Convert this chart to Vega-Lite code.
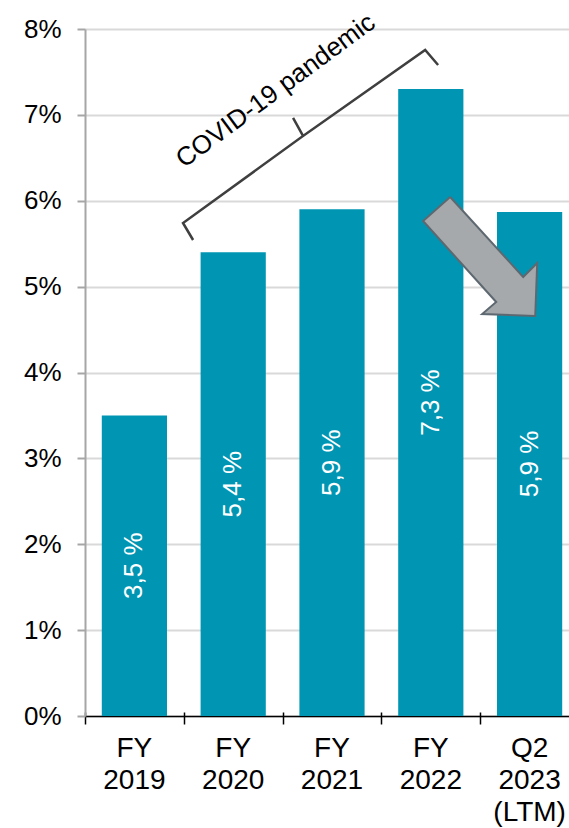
{
  "$schema": "https://vega.github.io/schema/vega-lite/v6.json",
  "autosize": "none",
  "padding": {"left": 85, "top": 29, "right": 0, "bottom": 112},
  "width": 484,
  "height": 687,
  "background": "white",
  "config": {
    "view": {"stroke": null},
    "font": "Liberation Sans",
    "axis": {"labelFont": "Liberation Sans", "labelColor": "#000000"}
  },
  "datasets": {
    "bars": [
      {"cat": "FY|2019", "v": 3.5, "lab": "3,5 %"},
      {"cat": "FY|2020", "v": 5.4, "lab": "5,4 %"},
      {"cat": "FY|2021", "v": 5.9, "lab": "5,9 %"},
      {"cat": "FY|2022", "v": 7.3, "lab": "7,3 %"},
      {"cat": "Q2|2023|(LTM)", "v": 5.87, "lab": "5,9 %"}
    ],
    "brace": [
      {"o": 1, "bx": 1.094, "by": 5.543},
      {"o": 2, "bx": 0.992, "by": 5.741},
      {"o": 3, "bx": 2.207, "by": 6.754},
      {"o": 4, "bx": 2.106, "by": 6.964},
      {"o": 5, "bx": 2.207, "by": 6.754},
      {"o": 6, "bx": 3.443, "by": 7.755},
      {"o": 7, "bx": 3.574, "by": 7.581}
    ],
    "note": [
      {"tx": 1.93, "ty": 7.28, "t": "COVID-19 pandemic"}
    ],
    "arrow": [
      {"o": 1, "ax": 3.696, "ay": 6.044},
      {"o": 2, "ax": 4.435, "ay": 5.112},
      {"o": 3, "ax": 4.577, "ay": 5.275},
      {"o": 4, "ax": 4.557, "ay": 4.658},
      {"o": 5, "ax": 4.020, "ay": 4.681},
      {"o": 6, "ax": 4.162, "ay": 4.821},
      {"o": 7, "ax": 3.422, "ay": 5.764},
      {"o": 8, "ax": 3.696, "ay": 6.044}
    ]
  },
  "layer": [
    {
      "layer": [
        {
          "data": {"name": "bars"},
          "mark": {"type": "bar", "color": "#0096B3"},
          "encoding": {
            "x": {
              "field": "cat", "type": "nominal", "sort": null,
              "scale": {"paddingInner": 0.34, "paddingOuter": 0.17, "range": [0, 494]},
              "axis": {
                "title": null, "labelAngle": 0, "labelExpr": "split(datum.label, '|')",
                "labelFontSize": 28, "labelLineHeight": 32, "labelPadding": 18,
                "ticks": false, "domainColor": "#000000", "domainWidth": 1.5, "labelBaseline": "top"
              }
            },
            "y": {
              "field": "v", "type": "quantitative",
              "scale": {"domain": [0, 8], "nice": false},
              "axis": {
                "title": null, "values": [0, 1, 2, 3, 4, 5, 6, 7, 8],
                "labelExpr": "datum.value + '%'", "labelFontSize": 26, "labelPadding": 16,
                "tickSize": 8, "tickColor": "#A6A6A6", "tickWidth": 2,
                "domainColor": "#A6A6A6", "domainWidth": 2,
                "grid": true, "gridColor": "#D9D9D9", "gridWidth": 2
              }
            }
          }
        },
        {
          "data": {"name": "bars"},
          "mark": {"type": "text", "angle": 270, "align": "center", "baseline": "middle", "color": "#FFFFFF", "fontSize": 26, "font": "Liberation Sans"},
          "encoding": {
            "x": {"field": "cat", "type": "nominal", "sort": null, "title": null},
            "y": {"field": "v", "type": "quantitative", "stack": "zero", "bandPosition": 0.5, "title": null, "scale": {"domain": [0, 8], "nice": false}},
            "text": {"field": "lab"}
          }
        }
      ]
    },
    {
      "data": {"name": "brace"},
      "mark": {"type": "line", "color": "#3F3F3F", "strokeWidth": 2.5, "strokeJoin": "miter"},
      "encoding": {
        "x": {"field": "bx", "type": "quantitative", "scale": {"domain": [0, 5], "range": [0, 494], "nice": false, "zero": false},
          "axis": {"orient": "bottom", "title": null, "values": [0, 1, 2, 3, 4, 5], "labels": false, "domain": false, "grid": false, "tickSize": 8, "tickColor": "#000000", "tickWidth": 1.5}},
        "y": {"field": "by", "type": "quantitative", "title": null, "scale": {"domain": [0, 8], "nice": false}},
        "order": {"field": "o"}
      }
    },
    {
      "data": {"name": "note"},
      "mark": {"type": "text", "angle": 323.5, "align": "center", "baseline": "middle", "color": "#000000", "fontSize": 26, "font": "Liberation Sans"},
      "encoding": {
        "x": {"field": "tx", "type": "quantitative", "scale": {"domain": [0, 5], "range": [0, 494], "nice": false, "zero": false},
          "axis": {"orient": "bottom", "title": null, "values": [0, 1, 2, 3, 4, 5], "labels": false, "domain": false, "grid": false, "tickSize": -4, "tickColor": "#000000", "tickWidth": 1.5}},
        "y": {"field": "ty", "type": "quantitative", "title": null, "scale": {"domain": [0, 8], "nice": false}},
        "text": {"field": "t"}
      }
    },
    {
      "data": {"name": "arrow"},
      "mark": {"type": "line", "fill": "#A5A9AB", "stroke": "#5E6870", "strokeWidth": 2, "strokeJoin": "miter"},
      "encoding": {
        "x": {"field": "ax", "type": "quantitative", "scale": {"domain": [0, 5], "range": [0, 494], "nice": false, "zero": false}, "axis": null},
        "y": {"field": "ay", "type": "quantitative", "title": null, "scale": {"domain": [0, 8], "nice": false}},
        "order": {"field": "o"}
      }
    }
  ],
  "resolve": {"scale": {"x": "independent"}, "axis": {"x": "independent"}}
}
